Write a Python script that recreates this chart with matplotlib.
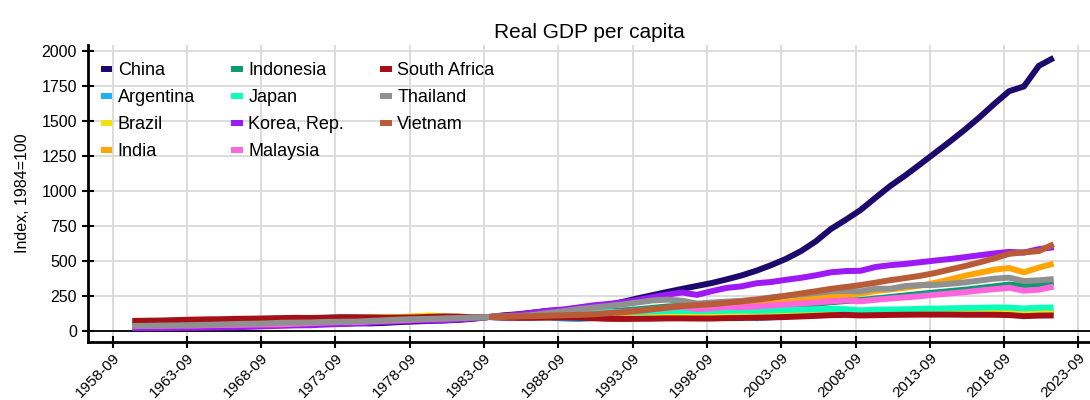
import datetime as dt
import numpy as np
import matplotlib
matplotlib.use("Agg")
import matplotlib.pyplot as plt
import matplotlib.dates as mdates

plt.rcParams["font.family"] = ["Liberation Sans", "DejaVu Sans"]

# real GDP per capita, index 1984=100 (annual, 1960-2022)
years = list(range(1960, 2023))
vn_years = list(range(1984, 2023))

china = [39, 28, 26, 28, 33, 38, 41, 37, 35, 40,
         46, 48, 49, 52, 52, 56, 54, 58, 64, 68,
         72, 75, 80, 88, 100, 112, 120, 132, 144, 148,
         152, 164, 185, 208, 233, 256, 279, 301, 322, 343,
         369, 397, 431, 471, 516, 571, 641, 728, 794, 864,
         951, 1036, 1110, 1190, 1271, 1352, 1436, 1526, 1622, 1713,
         1747, 1894, 1951]
argentina = [70, 73, 70, 66, 72, 78, 76, 77, 80, 86,
             88, 91, 92, 94, 99, 97, 95, 100, 94, 103,
             103, 96, 91, 94, 100, 93, 98, 99, 97, 89,
             85, 92, 98, 102, 106, 102, 107, 114, 117, 111,
             109, 103, 91, 98, 106, 114, 122, 132, 136, 127,
             138, 145, 142, 144, 138, 141, 136, 139, 134, 130,
             116, 127, 133]
brazil = [44, 47, 49, 48, 48, 48, 50, 50, 54, 58,
          62, 68, 74, 83, 88, 90, 97, 100, 100, 105,
          112, 104, 103, 97, 100, 106, 111, 113, 111, 112,
          107, 106, 104, 107, 111, 114, 115, 117, 115, 114,
          117, 117, 119, 119, 124, 126, 129, 134, 138, 136,
          144, 147, 148, 150, 149, 142, 136, 136, 137, 137,
          131, 136, 139]
india = [70, 71, 71, 74, 78, 74, 73, 77, 78, 81,
         83, 83, 80, 81, 80, 86, 85, 89, 92, 86,
         89, 93, 94, 98, 100, 103, 106, 107, 115, 119,
         123, 122, 126, 130, 136, 143, 151, 154, 161, 172,
         175, 180, 184, 195, 207, 220, 234, 248, 252, 268,
         286, 297, 309, 324, 344, 367, 394, 416, 438, 450,
         419, 453, 481]
indonesia = [44, 45, 45, 42, 43, 42, 42, 42, 45, 50,
             52, 55, 57, 62, 66, 67, 70, 75, 79, 82,
             88, 93, 93, 95, 100, 100, 104, 107, 112, 117,
             126, 132, 139, 147, 155, 165, 175, 181, 155, 154,
             159, 163, 168, 174, 180, 188, 195, 205, 214, 221,
             232, 243, 254, 265, 275, 285, 295, 307, 319, 332,
             322, 331, 346]
japan = [26, 29, 31, 34, 37, 39, 43, 47, 53, 59,
         63, 66, 70, 75, 73, 74, 77, 79, 83, 87,
         88, 91, 94, 96, 100, 106, 109, 113, 120, 126,
         131, 135, 136, 135, 136, 139, 143, 144, 142, 142,
         145, 146, 145, 147, 150, 153, 155, 158, 156, 147,
         153, 153, 155, 159, 160, 162, 164, 166, 168, 167,
         161, 166, 168]
korea = [20, 20, 21, 22, 23, 24, 26, 27, 30, 34,
         37, 40, 41, 46, 50, 53, 59, 65, 70, 75,
         73, 77, 82, 92, 100, 107, 118, 131, 145, 154,
         168, 183, 193, 205, 222, 242, 260, 275, 258, 285,
         308, 319, 341, 350, 366, 380, 398, 419, 428, 430,
         457, 470, 479, 491, 503, 514, 527, 541, 554, 565,
         560, 585, 598]
malaysia = [34, 36, 37, 39, 39, 41, 43, 44, 46, 47,
            48, 52, 56, 61, 64, 63, 69, 73, 76, 81,
            85, 89, 92, 95, 100, 96, 95, 98, 104, 110,
            115, 121, 127, 136, 144, 154, 165, 173, 157, 162,
            172, 170, 175, 182, 190, 196, 204, 212, 219, 212,
            223, 232, 240, 248, 259, 268, 277, 289, 299, 309,
            288, 295, 317]
south_africa = [72, 73, 75, 78, 81, 83, 84, 87, 88, 90,
                92, 94, 93, 95, 98, 98, 97, 95, 96, 97,
                101, 104, 102, 97, 100, 96, 94, 94, 96, 96,
                94, 91, 87, 86, 87, 88, 90, 90, 89, 89,
                92, 93, 95, 97, 100, 104, 108, 113, 115, 111,
                113, 115, 116, 117, 117, 117, 116, 116, 116, 114,
                106, 110, 111]
thailand = [36, 37, 39, 40, 42, 44, 47, 50, 52, 54,
            59, 60, 61, 65, 66, 67, 72, 77, 82, 85,
            87, 90, 93, 96, 100, 103, 107, 115, 129, 142,
            156, 167, 178, 190, 204, 218, 224, 216, 196, 203,
            210, 215, 226, 240, 252, 261, 272, 284, 287, 283,
            302, 302, 321, 328, 329, 337, 347, 360, 374, 381,
            357, 362, 371]
vietnam = [100, 104, 104, 106, 109, 112, 115, 119, 127, 134,
           144, 155, 167, 178, 185, 191, 201, 211, 223, 236,
           252, 268, 284, 301, 314, 328, 345, 363, 378, 394,
           414, 439, 463, 490, 519, 551, 562, 571, 620]

series = [
    ("China", years, china, "#1b0a6b"),
    ("Argentina", years, argentina, "#1ab2ff"),
    ("Brazil", years, brazil, "#f2e00c"),
    ("India", years, india, "#ffa505"),
    ("Indonesia", years, indonesia, "#0a9b6e"),
    ("Japan", years, japan, "#0affb9"),
    ("Korea, Rep.", years, korea, "#9d19f5"),
    ("Malaysia", years, malaysia, "#ff66dd"),
    ("South Africa", years, south_africa, "#a50f15"),
    ("Thailand", years, thailand, "#909090"),
    ("Vietnam", vn_years, vietnam, "#b85c38"),
]

fig = plt.figure(figsize=(10.9, 4.0), dpi=100)
ax = fig.add_axes([88 / 1090, 58 / 400, 1002 / 1090, 297 / 400])

for name, yrs, vals, color in series:
    dates = [dt.datetime(y, 1, 1) for y in yrs]
    ax.plot(dates, vals, color=color, lw=4.3, label=name,
            solid_capstyle="butt", solid_joinstyle="round")

ax.axhline(0, color="black", lw=1.3, zorder=1.5)

ax.set_xlim(dt.datetime(1957, 1, 5), dt.datetime(2024, 6, 12))
ax.set_ylim(-78.6, 2043)

ax.set_yticks(np.arange(0, 2001, 250))
xt = [dt.datetime(y, 9, 1) for y in range(1958, 2024, 5)]
ax.set_xticks(xt)
ax.xaxis.set_major_formatter(mdates.DateFormatter("%Y-%m"))
plt.setp(ax.get_xticklabels(), rotation=45, ha="right", rotation_mode="anchor")

ax.grid(True, color="#d9d9d9", lw=1.3)
ax.set_axisbelow(True)
for s in ["top", "right"]:
    ax.spines[s].set_visible(False)
ax.spines["left"].set_linewidth(2)
ax.spines["bottom"].set_linewidth(2)
ax.tick_params(direction="inout", length=8, width=1.5, labelsize=11.5, pad=4)
ax.tick_params(axis="x", labelsize=11, pad=2)

ax.set_ylabel("Index, 1984=100", fontsize=11.5, labelpad=8)
ax.set_title("Real GDP per capita", fontsize=15, pad=5)

ax.legend(loc="upper left", bbox_to_anchor=(0.0, 0.985), ncol=3, frameon=False,
          fontsize=13, handlelength=0.65, handletextpad=0.3,
          columnspacing=2.0, labelspacing=0.56, borderaxespad=0.3)

fig.savefig("out.png", dpi=100)
